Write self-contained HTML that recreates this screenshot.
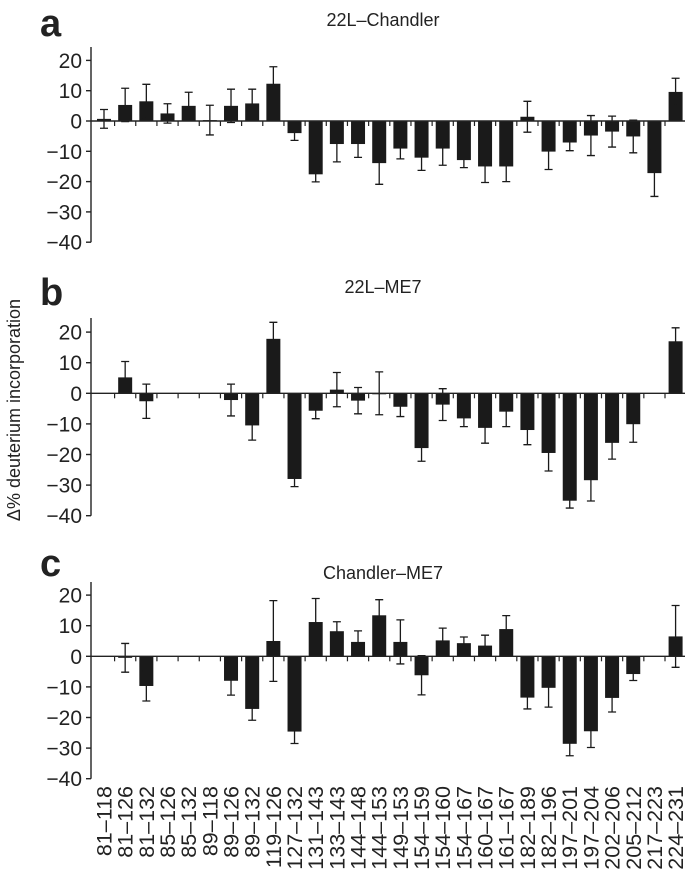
<!DOCTYPE html>
<html><head><meta charset="utf-8">
<style>
body{margin:0;background:#fff;}
svg{display:block;font-family:"Liberation Sans",Arial,sans-serif;}
</style></head>
<body>
<svg id="chart" width="685" height="873" viewBox="0 0 685 873">
<text x="20" y="410" font-size="18" text-anchor="middle" transform="rotate(-90 20 410)" fill="#222">Δ% deuterium incorporation</text>
</svg>
<script>
const categories=["81–118","81–126","81–132","85–126","85–132","89–118","89–126","89–132","119–126","127–132","131–143","133–143","144–148","144–153","149–153","154–159","154–160","154–167","160–167","161–167","182–189","182–196","197–201","197–204","202–206","205–212","217–223","224–231"];
const yTicks=[20,10,0,-10,-20,-30,-40];
const valuesA=[0.7,5.3,6.5,2.5,5.0,0.3,5.0,5.8,12.3,-4.0,-17.6,-7.6,-7.6,-13.9,-9.1,-12.1,-9.1,-12.9,-15.0,-15.0,1.4,-10.1,-7.1,-4.8,-3.5,-5.1,-17.2,9.6];
const errorsA=[3.1,5.5,5.6,3.2,4.5,4.9,5.5,4.7,5.6,2.4,2.5,5.9,4.4,7.0,3.4,4.2,5.5,2.5,5.3,5.0,5.1,5.9,2.7,6.6,5.1,5.4,7.7,4.5];
const valuesB=[null,5.2,-2.6,null,null,null,-2.2,-10.5,17.8,-28.0,-5.7,1.2,-2.4,0,-4.4,-17.9,-3.7,-8.2,-11.3,-6.0,-12.0,-19.5,-35.1,-28.4,-16.2,-10.1,null,17.0];
const errorsB=[0,5.2,5.6,0,0,0,5.2,4.8,5.4,2.5,2.6,5.6,4.3,7.0,3.2,4.3,5.2,2.7,5.0,4.9,4.8,5.9,2.4,6.8,5.3,5.9,0,4.4];
const valuesC=[null,-0.5,-9.7,null,null,null,-8.0,-17.2,5.0,-24.6,11.2,8.2,4.7,13.4,4.7,-6.2,5.2,4.3,3.5,8.9,-13.5,-10.3,-28.6,-24.5,-13.6,-5.8,null,6.5];
const errorsC=[0,4.7,4.9,0,0,0,4.7,3.7,13.2,3.9,7.7,3.1,3.6,5.1,7.2,6.4,4.0,2.0,3.4,4.4,3.7,6.3,3.9,5.3,4.6,2.1,0,10.1];

const svg=document.getElementById('chart');
const NS='http://www.w3.org/2000/svg';
function mk(tag,attrs,parent){const e=document.createElementNS(NS,tag);for(const k in attrs)e.setAttribute(k,attrs[k]);(parent||svg).appendChild(e);return e;}
const axisX=91, rightX=685, barW=14, x0=104, step=21.17;
function xScale(i){return x0+i*step;}
const panels=[
 {letter:'a',title:'22L–Chandler',zero:121,s:3.03,top:47,ly:36,ty:26,vals:valuesA,errs:errorsA},
 {letter:'b',title:'22L–ME7',zero:393.3,s:3.06,top:318,ly:305,ty:293,vals:valuesB,errs:errorsB},
 {letter:'c',title:'Chandler–ME7',zero:656.3,s:3.06,top:582,ly:576,ty:579,vals:valuesC,errs:errorsC}
];
panels.forEach(p=>{
 const g=mk('g',{});
 
 
 const y=v=>p.zero-v*p.s;
 const L=mk('text',{x:40,y:p.ly,'font-size':38,'font-weight':'bold',fill:'#222'},g);L.textContent=p.letter;
 
 
 const T=mk('text',{x:383,y:p.ty,'font-size':18,'text-anchor':'middle',fill:'#222'},g);T.textContent=p.title;
 
 
 const ya=mk('line',{x1:axisX,x2:axisX,y1:p.top,y2:y(-40),stroke:'#222','stroke-width':1.4},g);
 
 
 yTicks.forEach(t=>{
  mk('line',{x1:axisX-5,x2:axisX,y1:y(t),y2:y(t),stroke:'#222','stroke-width':1.4},g);
  const tl=mk('text',{x:82,y:y(t)+7.5,'font-size':21,'text-anchor':'end',fill:'#222'},g);
  tl.textContent=t<0?'−'+(-t):String(t);
  
  
 });
 p.vals.forEach((v,i)=>{
  if(v===null)return;
  const cx=xScale(i);
  const b=mk('rect',{x:cx-barW/2,y:Math.min(y(v),y(0)),width:barW,height:Math.max(Math.abs(y(v)-y(0)),1),fill:'#1a1a1a'},g);
  
  
  const e=p.errs[i];
  if(e>0){
   const e1=y(v+e),e2=y(v-e);
   const eb=mk('path',{d:`M${cx},${e1}V${e2}M${cx-4},${e1}H${cx+4}M${cx-4},${e2}H${cx+4}`,stroke:'#1a1a1a','stroke-width':1.3,fill:'none'},g);
   
   
  }
 });
 const xa=mk('line',{x1:axisX,x2:rightX,y1:y(0),y2:y(0),stroke:'#222','stroke-width':1.4},g);
 
 
 for(let i=0;i<categories.length;i++){
  const tx=xScale(i)+step/2;
  mk('line',{x1:tx,x2:tx,y1:y(0),y2:y(0)+5,stroke:'#222','stroke-width':1.2},g);
 }
});
categories.forEach((c,i)=>{
 const cx=xScale(i)+7.5;
 const t=mk('text',{x:cx,y:786,'font-size':21.5,'text-anchor':'end',fill:'#222',transform:`rotate(-90 ${cx} 786)`});
 t.textContent=c;
 
 
});
</script>
</body></html>
